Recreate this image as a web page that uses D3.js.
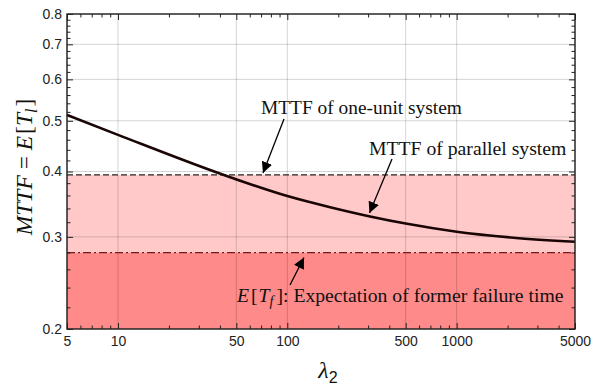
<!DOCTYPE html>
<html>
<head>
<meta charset="utf-8">
<script src="https://cdn.jsdelivr.net/npm/d3@7"></script>
<style>
  body { margin: 0; background: #fff; }
  svg { display: block; }
</style>
</head>
<body>
<script>
// values
const lambda2 = [5, 10, 46, 100, 179, 308, 500, 1000, 2163, 5000];
const mttfParallel = [0.513, 0.470, 0.390, 0.359, 0.3418, 0.3282, 0.3181, 0.3069, 0.2989, 0.2936];
const mttfOneUnit = 0.394;
const expFormer = 0.280;
const xMajor = [5, 10, 50, 100, 500, 1000, 5000];
const xMinor = [6, 7, 8, 9, 20, 30, 40, 60, 70, 80, 90, 200, 300, 400, 600, 700, 800, 900, 2000, 3000, 4000];
const yMajor = [0.2, 0.3, 0.4, 0.5, 0.6, 0.7, 0.8];
const yMinor = [0.22, 0.24, 0.26, 0.28, 0.32, 0.34, 0.36, 0.38, 0.42, 0.44, 0.46, 0.48,
  0.52, 0.54, 0.56, 0.58, 0.62, 0.64, 0.66, 0.68, 0.72, 0.74, 0.76, 0.78];

const W = 592, H = 387;
const margin = {top: 14, right: 17, bottom: 58, left: 67};
const gw = W - margin.left - margin.right;
const gh = H - margin.top - margin.bottom;

const svg = d3.select('body').append('svg')
  .attr('width', W)
  .attr('height', H);

const defs = svg.append('defs');
defs.append('marker')
  .attr('id', 'arr')
  .attr('viewBox', '0 0 10 10')
  .attr('refX', 10).attr('refY', 5)
  .attr('markerWidth', 11).attr('markerHeight', 11)
  .attr('markerUnits', 'userSpaceOnUse')
  .attr('orient', 'auto')
  .append('path')
  .attr('d', 'M0,0 L10,5 L0,10 Z')
  .attr('fill', '#000');

const graph = svg.append('g')
  .attr('transform', `translate(${margin.left},${margin.top})`);

const x = d3.scaleLog().domain([5, 5000]).range([0, gw]);
const y = d3.scaleLog().domain([0.2, 0.8]).range([gh, 0]);

// shaded regions
graph.append('rect')
  .attr('x', 0).attr('width', gw)
  .attr('y', y(mttfOneUnit)).attr('height', y(expFormer) - y(mttfOneUnit))
  .attr('fill', '#ffc9c9');
graph.append('rect')
  .attr('x', 0).attr('width', gw)
  .attr('y', y(expFormer)).attr('height', gh - y(expFormer))
  .attr('fill', '#ff8a8a');

// grid
const grid = graph.append('g');
grid.selectAll('.gx').data(xMajor).enter().append('line')
  .attr('x1', d => x(d)).attr('x2', d => x(d))
  .attr('y1', 0).attr('y2', gh)
  .attr('stroke', 'rgba(0,0,0,0.17)').attr('stroke-width', 1);
grid.selectAll('.gy').data(yMajor).enter().append('line')
  .attr('y1', d => y(d)).attr('y2', d => y(d))
  .attr('x1', 0).attr('x2', gw)
  .attr('stroke', 'rgba(0,0,0,0.17)').attr('stroke-width', 1);

// reference lines
graph.append('line')
  .attr('x1', 0).attr('x2', gw)
  .attr('y1', y(mttfOneUnit)).attr('y2', y(mttfOneUnit))
  .attr('stroke', '#222').attr('stroke-width', 1.3)
  .attr('stroke-dasharray', '6,3');
graph.append('line')
  .attr('x1', 0).attr('x2', gw)
  .attr('y1', y(expFormer)).attr('y2', y(expFormer))
  .attr('stroke', '#7a1a1a').attr('stroke-width', 1.3)
  .attr('stroke-dasharray', '8,3,2,3');

// curve
const line = d3.line()
  .x((d, i) => x(lambda2[i]))
  .y(d => y(d))
  .curve(d3.curveMonotoneX);
graph.append('path')
  .datum(mttfParallel)
  .attr('d', line)
  .attr('fill', 'none')
  .attr('stroke', '#1a0505')
  .attr('stroke-width', 2.6);

// axes with inward ticks on all sides
const fmt = d => String(d);
const axB = d3.axisBottom(x).tickValues(xMajor).tickFormat(fmt).tickSizeInner(-6).tickSizeOuter(0).tickPadding(7);
const axT = d3.axisTop(x).tickValues(xMajor).tickFormat('').tickSizeInner(-6).tickSizeOuter(0);
const axL = d3.axisLeft(y).tickValues(yMajor).tickFormat(d3.format('.1f')).tickSizeInner(-6).tickSizeOuter(0).tickPadding(5);
const axR = d3.axisRight(y).tickValues(yMajor).tickFormat('').tickSizeInner(-6).tickSizeOuter(0);

const mB = d3.axisBottom(x).tickValues(xMinor).tickFormat('').tickSizeInner(-3.5).tickSizeOuter(0);
const mT = d3.axisTop(x).tickValues(xMinor).tickFormat('').tickSizeInner(-3.5).tickSizeOuter(0);
const mL = d3.axisLeft(y).tickValues(yMinor).tickFormat('').tickSizeInner(-3.5).tickSizeOuter(0);
const mR = d3.axisRight(y).tickValues(yMinor).tickFormat('').tickSizeInner(-3.5).tickSizeOuter(0);

const axes = [
  [axB, `translate(0,${gh})`], [mB, `translate(0,${gh})`],
  [axT, 'translate(0,0)'], [mT, 'translate(0,0)'],
  [axL, 'translate(0,0)'], [mL, 'translate(0,0)'],
  [axR, `translate(${gw},0)`], [mR, `translate(${gw},0)`]
];
axes.forEach(([ax, tr]) => {
  const g = graph.append('g').attr('transform', tr).call(ax);
  g.select('.domain').remove();
  g.selectAll('line').attr('stroke', '#222').attr('stroke-width', 1);
  g.selectAll('text')
    .attr('font-family', 'Liberation Sans, Arial, sans-serif')
    .attr('font-size', 14)
    .attr('fill', '#222');
});

// frame
graph.append('rect')
  .attr('x', 0).attr('y', 0).attr('width', gw).attr('height', gh)
  .attr('fill', 'none').attr('stroke', '#222').attr('stroke-width', 1.4);

// annotations
const serif = 'Liberation Serif, Times New Roman, serif';
svg.append('text')
  .attr('x', 261).attr('y', 114)
  .attr('font-family', serif).attr('font-size', 19.4).attr('fill', '#111')
  .text('MTTF of one-unit system');
svg.append('text')
  .attr('x', 369).attr('y', 155)
  .attr('font-family', serif).attr('font-size', 19.7).attr('fill', '#111')
  .text('MTTF of parallel system');
const ef = svg.append('text')
  .attr('x', 237).attr('y', 302)
  .attr('font-family', serif).attr('font-size', 19.7).attr('fill', '#111');
ef.append('tspan').attr('font-style', 'italic').text('E');
ef.append('tspan').attr('dx', 2).text('[');
ef.append('tspan').attr('font-style', 'italic').attr('dx', 1).text('T');
ef.append('tspan').attr('font-style', 'italic').attr('font-size', 14).attr('dy', 4).text('f');
ef.append('tspan').attr('dy', -4).attr('dx', 3).text(']');
ef.append('tspan').text(': Expectation of former failure time');

const arrows = [
  [284, 119, 263, 173],
  [392, 159, 369.5, 213],
  [290, 285, 304, 257.5]
];
svg.selectAll('.arrow').data(arrows).enter().append('line')
  .attr('x1', d => d[0]).attr('y1', d => d[1])
  .attr('x2', d => d[2]).attr('y2', d => d[3])
  .attr('stroke', '#000').attr('stroke-width', 1.3)
  .attr('marker-end', 'url(#arr)');

// axis titles
const yl = svg.append('text')
  .attr('transform', 'translate(32,167) rotate(-90)')
  .attr('text-anchor', 'middle')
  .attr('font-family', serif).attr('font-size', 23.5).attr('fill', '#111');
yl.append('tspan').attr('font-style', 'italic').text('MTTF');
yl.append('tspan').text(' = ');
yl.append('tspan').attr('font-style', 'italic').text('E');
yl.append('tspan').attr('dx', 2).text('[');
yl.append('tspan').attr('font-style', 'italic').text('T');
yl.append('tspan').attr('font-style', 'italic').attr('font-size', 16).attr('dy', 5).text('l');
yl.append('tspan').attr('dy', -5).attr('dx', 2).text(']');

const xl = svg.append('text')
  .attr('x', 328).attr('y', 378)
  .attr('text-anchor', 'middle')
  .attr('font-family', serif).attr('font-size', 24).attr('fill', '#111');
xl.append('tspan').attr('font-style', 'italic').text('λ');
xl.append('tspan').attr('font-family', 'Liberation Sans, Arial, sans-serif').attr('font-size', 16).attr('dy', 5).text('2');
</script>
</body>
</html>
